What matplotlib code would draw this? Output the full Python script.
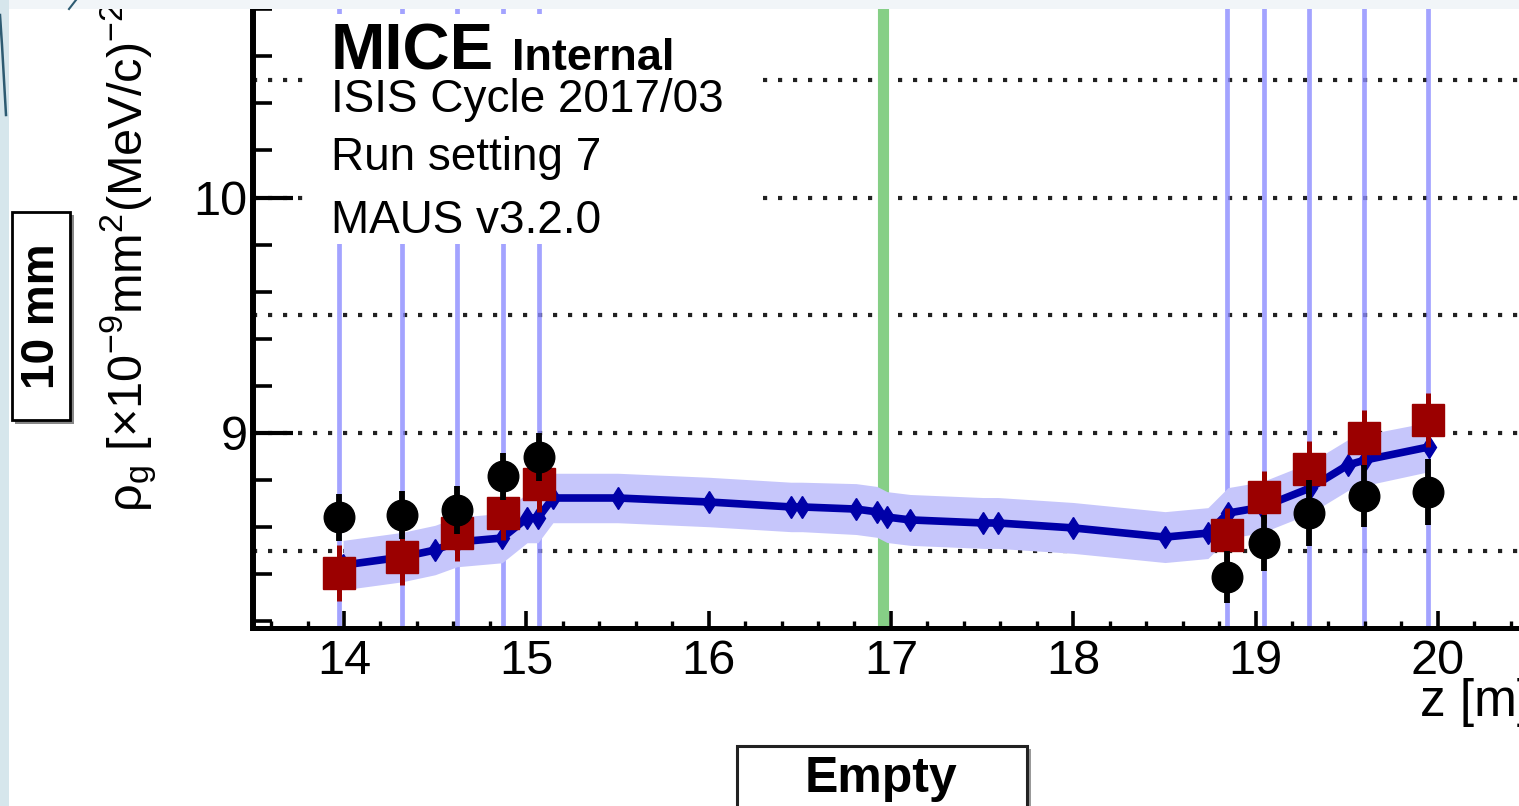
import matplotlib
matplotlib.use('Agg')
import matplotlib.pyplot as plt
from matplotlib.patches import Rectangle
from matplotlib.lines import Line2D
from matplotlib.ticker import MultipleLocator, FixedLocator

W, H = 1519, 806
plt.rcParams['font.family'] = ['Liberation Sans', 'DejaVu Sans']
plt.rcParams['mathtext.fontset'] = 'custom'
plt.rcParams['mathtext.rm'] = 'Liberation Sans'
plt.rcParams['mathtext.it'] = 'Liberation Sans:italic'
plt.rcParams['mathtext.bf'] = 'Liberation Sans:bold'

# ---------------- data ----------------
station_z_up = [13.97, 14.32, 14.62, 14.87, 15.07]
station_z_down = [18.845, 19.045, 19.295, 19.595, 19.945]
absorber_z = 16.955

mc_z = [13.995, 14.318, 14.499, 14.620, 14.867, 15.004, 15.064, 15.146,
        15.503, 16.002, 16.452, 16.512, 16.809, 16.924, 16.979, 17.105,
        17.505, 17.587, 17.999, 18.504, 18.739, 18.849, 19.036, 19.299,
        19.507, 19.600, 19.952]
mc_emit = [8.439, 8.473, 8.503, 8.537, 8.554, 8.639, 8.639, 8.724,
           8.724, 8.707, 8.686, 8.686, 8.677, 8.665, 8.643, 8.631,
           8.618, 8.618, 8.597, 8.558, 8.575, 8.660, 8.685, 8.766,
           8.864, 8.885, 8.941]
mc_band = [0.105, 0.105, 0.105, 0.105, 0.105, 0.105, 0.105, 0.105,
           0.105, 0.105, 0.105, 0.105, 0.108, 0.108, 0.108, 0.108,
           0.108, 0.108, 0.108, 0.108, 0.108, 0.108, 0.108, 0.108,
           0.108, 0.108, 0.105]

recmc_up = [8.406, 8.473, 8.575, 8.660, 8.783]
recmc_down = [8.567, 8.728, 8.847, 8.979, 9.055]
recmc_err_up = [0.12, 0.12, 0.12, 0.115, 0.12]
recmc_err_down = [0.115, 0.11, 0.12, 0.12, 0.115]

data_up = [8.643, 8.652, 8.673, 8.817, 8.898]
data_down = [8.389, 8.533, 8.660, 8.732, 8.749]
data_err_up = [0.10, 0.10, 0.10, 0.10, 0.10]
data_err_down = [0.11, 0.12, 0.14, 0.13, 0.14]

grid_y = [8.5, 9.0, 9.5, 10.0, 10.5]
x_ticks = [14, 15, 16, 17, 18, 19, 20]
y_ticks = [9, 10]

# ---------------- figure ----------------
def fx(px):
    return px / W

def fy(py):
    return 1 - py / H

fig = plt.figure(figsize=(W / 100, H / 100), dpi=100)
fig.patch.set_facecolor('#eef3f6')
fig.add_artist(Rectangle((fx(9), 0), 1, fy(9), transform=fig.transFigure,
                         facecolor='white', edgecolor='none', zorder=-5))

xmin, xmax = 13.5, 20.6
ymin, ymax = 8.172, 10.9
pxu, pyu = 182.3, 235.5
left_px = 344 - (14 - xmin) * pxu
right_px = 344 + (xmax - 14) * pxu
bot_py = 433 + (9 - ymin) * pyu
top_py = 433 - (ymax - 9) * pyu
ax = fig.add_axes([fx(left_px), fy(bot_py), (right_px - left_px) / W,
                   (bot_py - top_py) / H])
ax.set_facecolor('none')
ax.set_xlim(xmin, xmax)
ax.set_ylim(ymin, ymax)

# dotted grid
for g in grid_y:
    ax.axhline(g, color='#222222', lw=3.0, ls=(0, (1, 2.6)), zorder=1)

# station lines and absorber
for z in station_z_up + station_z_down:
    ax.axvline(z, color='#8c8cff', lw=3.4, alpha=0.8, zorder=1.5)
ax.axvline(absorber_z, color='#86cf86', lw=8, zorder=1.6)

# MC band and line
lo = [m - b for m, b in zip(mc_emit, mc_band)]
hi = [m + b for m, b in zip(mc_emit, mc_band)]
ax.fill_between(mc_z, lo, hi, color='#c6c6fb', lw=0, zorder=2)
ax.plot(mc_z, mc_emit, color='#0000a8', lw=5.5, marker='d', ms=11.5,
        mec='#0000a8', mfc='#0000a8', zorder=3)

# reco MC (red squares)
ax.errorbar(station_z_up + station_z_down, recmc_up + recmc_down,
            yerr=recmc_err_up + recmc_err_down, fmt='s', color='#9b0000',
            ms=23, mec='#9b0000', elinewidth=3.6, capsize=0, zorder=4)
# data (black circles)
ax.errorbar(station_z_up + station_z_down, data_up + data_down,
            yerr=data_err_up + data_err_down, fmt='o', color='black',
            ms=22, elinewidth=4.2, capsize=0, zorder=5)

# axes styling
for s in ['top', 'right']:
    ax.spines[s].set_visible(False)
ax.spines['left'].set_linewidth(4.3)
ax.spines['bottom'].set_linewidth(3.6)
ax.xaxis.set_major_locator(FixedLocator(x_ticks))
ax.xaxis.set_minor_locator(MultipleLocator(0.2))
ax.yaxis.set_major_locator(FixedLocator(y_ticks))
ax.yaxis.set_minor_locator(MultipleLocator(0.2))
ax.tick_params(axis='x', which='major', direction='in', length=12, width=2.6,
               pad=8, labelsize=35)
ax.tick_params(axis='x', which='minor', direction='in', length=5, width=2.4)
ax.tick_params(axis='y', which='major', direction='in', length=29, width=3,
               pad=4, labelsize=35)
ax.tick_params(axis='y', which='minor', direction='in', length=14, width=2.6)

# white pave behind the header text
ax.add_patch(Rectangle((fx(304), fy(244)), fx(763) - fx(304), fy(14) - fy(244),
                       transform=fig.transFigure, facecolor='white',
                       edgecolor='none', zorder=6, clip_on=False))

fig.text(fx(331), fy(70), 'MICE', fontsize=47, fontweight='bold',
         va='baseline', ha='left', zorder=7)
fig.text(fx(512), fy(70), 'Internal', fontsize=32.5, fontweight='bold',
         va='baseline', ha='left', zorder=7)
fig.text(fx(331), fy(112), 'ISIS Cycle 2017/03', fontsize=33,
         va='baseline', ha='left', zorder=7)
fig.text(fx(331), fy(170), 'Run setting 7', fontsize=33,
         va='baseline', ha='left', zorder=7)
fig.text(fx(331), fy(233), 'MAUS v3.2.0', fontsize=33,
         va='baseline', ha='left', zorder=7)

# y axis title
fig.text(fx(142), fy(512),
         r'$\mathrm{\rho_{g}}$ [$\times$10$^{-9}$mm$^{2}$(MeV/c)$^{-2}$]',
         fontsize=35, rotation=90, rotation_mode='anchor', ha='left',
         va='baseline')
# x axis title
fig.text(fx(1420), fy(716), 'z [m]', fontsize=37, ha='left', va='baseline')

# "10 mm" box
fig.add_artist(Rectangle((fx(15), fy(424)), fx(74) - fx(15), fy(215) - fy(424),
                         transform=fig.transFigure, facecolor='#888888',
                         edgecolor='none', zorder=8))
fig.add_artist(Rectangle((fx(12), fy(420)), fx(70) - fx(12), fy(212) - fy(420),
                         transform=fig.transFigure, facecolor='white',
                         edgecolor='black', lw=2, zorder=9))
fig.text(fx(42), fy(316), '10 mm', fontsize=33, fontweight='bold', rotation=90,
         ha='center', va='center', zorder=10)

# "Empty" box
fig.add_artist(Rectangle((fx(741), fy(830)), fx(1031) - fx(741), fy(749) - fy(830),
                         transform=fig.transFigure, facecolor='#999999',
                         edgecolor='none', zorder=8))
fig.add_artist(Rectangle((fx(737), fy(830)), fx(1027) - fx(737), fy(746) - fy(830),
                         transform=fig.transFigure, facecolor='white',
                         edgecolor='#222222', lw=2.2, zorder=9))
fig.text(fx(881), fy(792), 'Empty', fontsize=36, fontweight='bold',
         ha='center', va='baseline', zorder=10)

# slide decorations (top and left strips)
fig.add_artist(Rectangle((0, fy(9)), 1, 1 - fy(9), transform=fig.transFigure,
                         facecolor='#f1f5f8', edgecolor='none', zorder=20))
fig.add_artist(Rectangle((0, 0), fx(9), 1, transform=fig.transFigure,
                         facecolor='#d6e6ec', edgecolor='none', zorder=20))
fig.add_artist(Line2D([fx(76), fx(69)], [fy(0), fy(9)], transform=fig.transFigure,
                      color='#2d5b72', lw=1.5, zorder=21))
fig.add_artist(Line2D([fx(0), fx(2), fx(4), fx(6)], [fy(15), fy(45), fy(80), fy(115)],
                      transform=fig.transFigure, color='#2d5b72', lw=1.8, zorder=21))

fig.savefig('out.png', dpi=100, facecolor=fig.get_facecolor())
